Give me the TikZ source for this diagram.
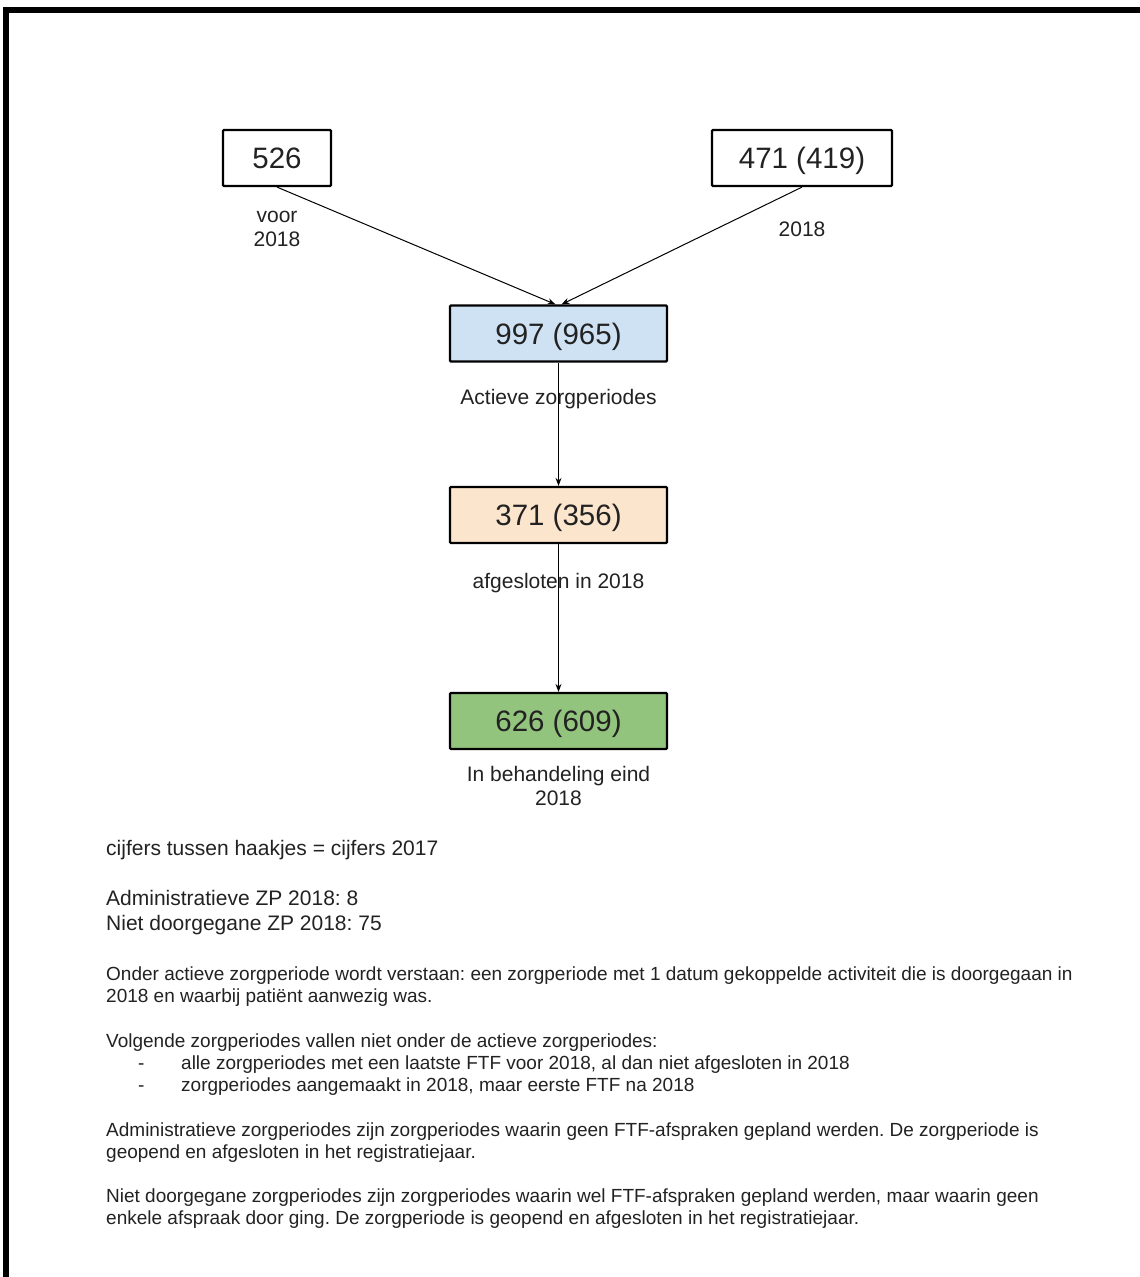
\documentclass[tikz,border=0pt]{standalone}
\usepackage{fontspec}
\setmainfont{Liberation Sans}
\usetikzlibrary{arrows.meta}
\definecolor{ink}{HTML}{222222}
\definecolor{bluefill}{HTML}{CFE2F3}
\definecolor{peachfill}{HTML}{FCE5CD}
\definecolor{greenfill}{HTML}{93C47D}
\frenchspacing
\begin{document}
\frenchspacing
\begin{tikzpicture}[x=1pt,y=-1pt,
  numbox/.style={draw=black, line width=2.2pt, rounded corners=1pt, minimum height=56pt, font=\fontsize{29.5}{32}\selectfont, text=ink, inner sep=0pt, text height=21.1pt, text depth=0pt},
  lbl/.style={font=\fontsize{21}{24}\selectfont, text=ink, align=center, inner sep=0pt, yshift=-1pt},
  big/.style={font=\fontsize{21}{24}\selectfont, text=ink, anchor=mid west, inner sep=0pt, yshift=-4.5pt},
  para/.style={font=\fontsize{19}{22}\selectfont, text=ink, anchor=mid west, inner sep=0pt, yshift=-4.5pt},
  flow/.style={-{Stealth[length=8pt,width=6pt]}, line width=1pt, black}]
\useasboundingbox (0,0) rectangle (1140,1277);
\fill[white] (0,0) rectangle (1140,1277);
\draw[line width=6pt] (6,1277) -- (6,10) -- (1140,10);

\node[numbox, minimum width=108pt] (a) at (277,158) {526};
\node[numbox, minimum width=180pt] (b) at (802,158) {471 (419)};
\node[numbox, minimum width=217pt, fill=bluefill] (c) at (558.5,333.5) {997 (965)};
\node[numbox, minimum width=217pt, fill=peachfill] (d) at (558.5,515) {371 (356)};
\node[numbox, minimum width=217pt, fill=greenfill] (e) at (558.5,721) {626 (609)};

\node[lbl] (la) at (277,228) {voor\\2018};
\node[lbl] (lb) at (802,228) {2018};
\node[lbl] (lc) at (558.5,398) {Actieve zorgperiodes};
\node[lbl] (ld) at (558.5,582) {afgesloten in 2018};
\node[lbl] (le) at (558.5,785) {In behandeling eind\\2018};

\draw[flow] (a.south) -- ([xshift=-3pt]c.north);
\draw[flow] (b.south) -- ([xshift=3pt]c.north);
\draw[flow] (c.south) -- (d.north);
\draw[flow] (d.south) -- (e.north);

\node[big] (t1) at (106,848) {cijfers tussen haakjes = cijfers 2017};
\node[big] (t2) at (106,898) {Administratieve ZP 2018: 8};
\node[big] (t3) at (106,923) {Niet doorgegane ZP 2018: 75};

\node[para] (p1) at (106,973) {Onder actieve zorgperiode wordt verstaan: een zorgperiode met 1 datum gekoppelde activiteit die is doorgegaan in};
\node[para] (p2) at (106,995) {2018 en waarbij patiënt aanwezig was.};
\node[para] (p3) at (106,1040) {Volgende zorgperiodes vallen niet onder de actieve zorgperiodes:};
\node[para] (d1) at (138,1062) {-};
\node[para] (p4) at (181,1062) {alle zorgperiodes met een laatste FTF voor 2018, al dan niet afgesloten in 2018};
\node[para] (d2) at (138,1084) {-};
\node[para] (p5) at (181,1084) {zorgperiodes aangemaakt in 2018, maar eerste FTF na 2018};
\node[para] (p6) at (106,1129) {Administratieve zorgperiodes zijn zorgperiodes waarin geen FTF-afspraken gepland werden. De zorgperiode is};
\node[para] (p7) at (106,1151) {geopend en afgesloten in het registratiejaar.};
\node[para] (p8) at (106,1195) {Niet doorgegane zorgperiodes zijn zorgperiodes waarin wel FTF-afspraken gepland werden, maar waarin geen};
\node[para] (p9) at (106,1217) {enkele afspraak door ging. De zorgperiode is geopend en afgesloten in het registratiejaar.};
\end{tikzpicture}
\end{document}
